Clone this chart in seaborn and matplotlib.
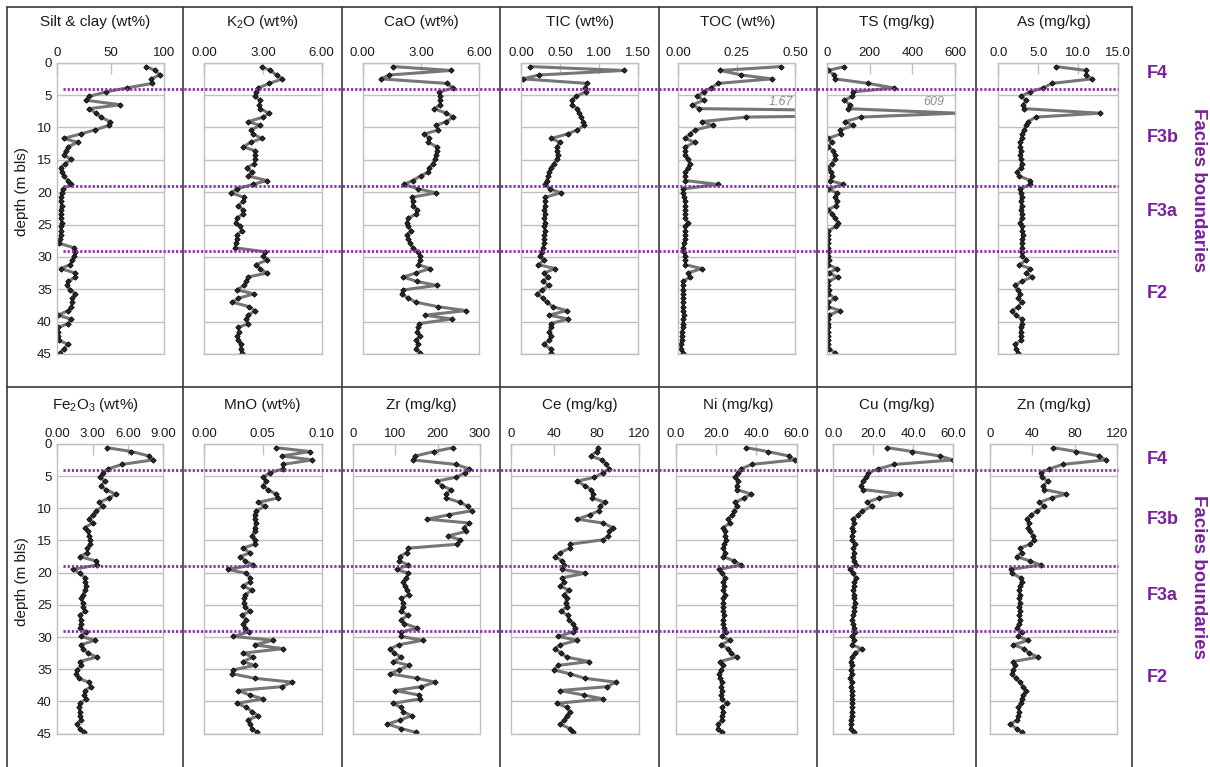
import matplotlib
matplotlib.use("Agg")
import matplotlib.pyplot as plt
from matplotlib.lines import Line2D
from matplotlib.transforms import blended_transform_factory
import seaborn as sns

# ---------------------------------------------------------------------------
# Sample depths (m below land surface)
# ---------------------------------------------------------------------------
DEPTH = [0.6, 1.2, 1.9, 2.5, 3.2, 3.9, 4.5, 5.2, 5.8, 6.5,
         7.1, 7.8, 8.4, 9.1, 9.7, 10.4, 11.0, 11.7, 12.3, 13.0,
         13.6, 14.3, 14.9, 15.6, 16.2, 16.9, 17.5, 18.2, 18.8, 19.5,
         20.1, 20.8, 21.4, 22.1, 22.7, 23.4, 24.0, 24.7, 25.3, 26.0,
         26.6, 27.3, 27.9, 28.6, 29.2, 29.9, 30.5, 31.2, 31.8, 32.5,
         33.1, 33.8, 34.4, 35.1, 35.7, 36.4, 37.0, 37.7, 38.3, 39.0,
         39.6, 40.3, 40.9, 41.6, 42.2, 42.9, 43.5, 44.2, 44.8]

SILT_CLAY = [83, 92, 96, 88, 89, 65, 46, 30, 27, 59,
             30, 36, 41, 49, 48, 35, 22, 6, 19, 10,
             8, 6, 13, 7.5, 3, 4, 6, 10, 13, 5,
             4, 3.5, 3, 4, 3, 3.5, 3, 4, 3, 3.5,
             3, 2.5, 1.5, 16, 17, 16, 14, 12, 3, 17,
             17, 10, 9, 12, 17, 14, 14, 13, 10, 1,
             12.5, 10, 1, 1, 1, 1.5, 10, 6, 2.5]

K2O = [2.94, 3.37, 3.70, 4.00, 3.33, 2.77, 2.65, 2.60, 2.86, 2.82,
       2.86, 3.30, 3.03, 2.26, 2.86, 2.38, 2.50, 2.94, 2.38, 2.00,
       2.60, 2.60, 2.60, 2.57, 2.18, 2.43, 2.26, 3.20, 2.50, 1.67,
       1.38, 2.04, 2.00, 1.75, 1.97, 1.97, 1.67, 1.62, 1.84, 1.92,
       1.67, 1.67, 1.62, 1.58, 3.11, 3.03, 3.20, 2.65, 2.86, 3.20,
       2.26, 2.14, 2.04, 1.67, 2.55, 1.75, 1.45, 2.31, 2.60, 2.26,
       2.14, 2.26, 1.75, 1.80, 1.70, 1.75, 1.87, 1.87, 1.92]

CAO = [1.54, 4.55, 1.37, 0.93, 4.32, 4.67, 3.95, 3.98, 3.98, 3.98,
       3.69, 4.29, 4.67, 4.29, 3.77, 3.89, 3.17, 3.43, 3.38, 3.81,
       3.81, 3.77, 3.72, 3.60, 3.43, 3.38, 2.98, 2.57, 2.14, 2.86,
       3.77, 2.52, 2.57, 2.57, 2.81, 2.74, 2.35, 2.26, 2.35, 2.49,
       2.26, 2.35, 2.44, 2.57, 2.86, 2.95, 2.95, 2.86, 3.46, 2.74,
       2.09, 2.78, 3.81, 2.09, 2.00, 2.35, 2.74, 3.89, 5.32, 3.21,
       4.58, 2.90, 2.86, 2.81, 2.95, 2.74, 2.86, 2.74, 2.95]

TIC = [0.12, 1.32, 0.23, 0.02, 0.85, 0.82, 0.83, 0.71, 0.65, 0.66,
       0.72, 0.75, 0.77, 0.80, 0.81, 0.72, 0.60, 0.39, 0.50, 0.46,
       0.46, 0.47, 0.46, 0.42, 0.38, 0.36, 0.35, 0.33, 0.31, 0.37,
       0.51, 0.31, 0.31, 0.31, 0.30, 0.31, 0.30, 0.31, 0.30, 0.31,
       0.30, 0.30, 0.30, 0.28, 0.27, 0.24, 0.30, 0.22, 0.44, 0.29,
       0.35, 0.28, 0.36, 0.27, 0.21, 0.28, 0.33, 0.41, 0.59, 0.36,
       0.61, 0.38, 0.38, 0.36, 0.38, 0.36, 0.29, 0.38, 0.39]

TOC = [0.44, 0.18, 0.27, 0.40, 0.17, 0.14, 0.11, 0.08, 0.11, 0.06,
       0.09, 1.67, 0.29, 0.10, 0.15, 0.07, 0.05, 0.03, 0.07, 0.03,
       0.03, 0.03, 0.04, 0.05, 0.04, 0.03, 0.03, 0.03, 0.17, 0.02,
       0.02, 0.025, 0.03, 0.03, 0.03, 0.03, 0.03, 0.04, 0.03, 0.03,
       0.03, 0.03, 0.025, 0.02, 0.025, 0.03, 0.03, 0.03, 0.10, 0.04,
       0.05, 0.02, 0.02, 0.02, 0.02, 0.02, 0.02, 0.02, 0.02, 0.025,
       0.02, 0.02, 0.02, 0.015, 0.015, 0.015, 0.01, 0.01, 0.02]

TS = [81, 5, 34, 37, 194, 312, 123, 119, 81, 108,
      97, 609, 159, 84, 123, 62, 64, 5, 22, 6,
      30, 37, 37, 22, 6, 19, 25, 14, 77, 6,
      45, 37, 45, 41, 5, 25, 37, 53, 41, 5,
      6, 5, 6, 5, 6, 5, 8, 6, 45, 8,
      50, 6, 5, 8, 6, 37, 6, 5, 61, 8,
      6, 5, 6, 5, 6, 5, 6, 8, 37]

AS = [7.2, 11.0, 11.0, 11.7, 6.7, 5.6, 4.0, 2.8, 3.5, 3.1,
      3.25, 12.7, 4.7, 3.7, 3.5, 3.2, 3.0, 2.9, 2.7, 2.7,
      2.8, 2.7, 2.8, 2.9, 2.8, 2.3, 2.6, 4.0, 4.0, 2.7,
      2.8, 2.9, 2.8, 2.9, 2.8, 3.0, 2.9, 2.7, 2.9, 3.0,
      3.1, 3.0, 2.9, 3.0, 2.9, 3.0, 3.5, 2.6, 4.0, 3.5,
      4.2, 2.9, 2.1, 2.4, 2.7, 2.5, 2.9, 2.5, 1.7, 2.2,
      2.9, 2.9, 2.8, 2.8, 2.8, 2.8, 2.1, 2.2, 2.5]

FE2O3 = [4.2, 6.3, 7.8, 8.1, 5.5, 4.3, 3.85, 3.6, 4.05, 3.7,
         4.1, 4.95, 4.4, 3.55, 3.85, 3.3, 3.0, 2.7, 3.0, 2.35,
         2.6, 2.7, 2.8, 2.8, 2.55, 2.55, 1.9, 3.3, 3.4, 1.35,
         1.9, 2.35, 2.35, 2.45, 2.35, 2.2, 2.05, 2.15, 2.2, 2.35,
         1.9, 2.0, 2.0, 1.9, 2.45, 2.0, 3.2, 2.0, 2.2, 2.6,
         3.35, 1.9, 2.05, 1.65, 1.6, 1.8, 2.65, 2.85, 2.35, 2.3,
         2.45, 1.9, 1.85, 1.9, 1.9, 2.0, 1.65, 1.9, 2.25]

MNO = [0.061, 0.090, 0.066, 0.092, 0.067, 0.067, 0.056, 0.050, 0.053, 0.050,
       0.054, 0.061, 0.063, 0.046, 0.052, 0.044, 0.043, 0.043, 0.044, 0.043,
       0.043, 0.041, 0.043, 0.043, 0.033, 0.039, 0.031, 0.035, 0.042, 0.020,
       0.036, 0.039, 0.039, 0.033, 0.041, 0.035, 0.034, 0.034, 0.035, 0.039,
       0.032, 0.036, 0.033, 0.035, 0.038, 0.025, 0.059, 0.043, 0.067, 0.033,
       0.042, 0.033, 0.043, 0.025, 0.024, 0.043, 0.075, 0.066, 0.029, 0.039,
       0.050, 0.028, 0.036, 0.041, 0.046, 0.037, 0.039, 0.041, 0.045]

ZR = [236, 192, 147, 141, 243, 275, 265, 243, 198, 210,
      231, 221, 221, 253, 271, 280, 228, 176, 275, 262,
      267, 225, 253, 246, 131, 127, 111, 110, 131, 104,
      131, 126, 119, 123, 127, 133, 115, 119, 118, 113,
      131, 114, 122, 152, 115, 114, 165, 108, 89, 97,
      115, 96, 133, 108, 88, 152, 194, 162, 100, 156,
      159, 94, 114, 119, 139, 111, 82, 115, 149]

CE = [81, 80, 74.5, 85, 89, 92, 86, 78, 62, 69,
      75, 77, 76, 88, 83, 82, 74, 62, 86, 95,
      92, 91, 86, 55, 55, 46, 41, 48, 50, 48,
      69, 48, 50, 46, 54, 50, 52, 51, 52, 47,
      53, 54, 58, 60, 58, 44, 62, 46, 41, 47,
      52, 73, 44, 40, 55, 69, 98, 90, 46, 68,
      86, 43, 52, 55, 52, 50, 46, 55, 58]

NI = [34.9, 45.6, 56.2, 59.2, 37.7, 32.4, 30.7, 29.4, 31.1, 30.2,
      30.2, 37.4, 34.0, 29.4, 30.2, 29.1, 28.1, 25.8, 26.9, 23.6,
      24.5, 24.5, 24.8, 24.1, 23.6, 24.5, 23.6, 29.1, 32.4, 21.5,
      22.8, 24.5, 23.6, 24.1, 23.6, 24.5, 23.6, 23.6, 23.6, 23.6,
      23.8, 23.6, 23.6, 24.1, 24.8, 22.8, 26.9, 22.5, 26.1, 27.4,
      30.2, 22.0, 23.6, 22.5, 21.5, 22.0, 22.8, 22.5, 22.8, 22.5,
      22.8, 25.3, 22.8, 23.6, 22.8, 22.8, 21.2, 20.8, 23.1]

CU = [27, 39.5, 53.3, 60, 30.5, 22.5, 17.5, 16.2, 15, 13.8,
      15, 33.3, 23, 16.7, 19.5, 14.5, 12.5, 10, 10.5, 9.5,
      10, 9.2, 9.5, 10.8, 10, 10.5, 10, 10.5, 11.3, 8.3,
      10, 11.2, 10.5, 10.5, 10, 10.5, 10.5, 10.8, 10.5, 10.5,
      10, 9.5, 10, 10.5, 10.8, 9.5, 10.5, 9.2, 14.2, 10.8,
      9.2, 8.8, 9.2, 8.8, 9.2, 8.3, 9.2, 8.8, 9.2, 9.2,
      9.2, 9.5, 9.5, 9.2, 9.2, 8.8, 8.8, 8.7, 10.5]

ZN = [59.7, 81, 103, 109, 68.5, 56, 47.7, 48.7, 55, 50,
      51, 72, 58, 46.5, 51, 44.6, 39, 34.5, 37, 36,
      37.7, 40.8, 41.5, 37.7, 28.3, 29.8, 25, 37.7, 47.7, 19.5,
      20.4, 29, 29.8, 28.3, 27.6, 28.3, 27.6, 28.3, 27.6, 28.3,
      27.6, 28.3, 27.6, 25, 29.8, 26.7, 36, 22, 32, 37,
      45.5, 22, 23.5, 22, 20.4, 24.5, 28.3, 30.8, 33.9, 31.4,
      29.8, 29, 26.7, 27.6, 26.7, 25.8, 18.8, 25, 29.8]

# Facies boundaries (m) and the zone names between them
FACIES_DEPTHS = [4.0, 19.0, 29.1]
FACIES_NAMES = ["F4", "F3b", "F3a", "F2"]

DEPTH_TICKS = [0, 5, 10, 15, 20, 25, 30, 35, 40, 45]

# title, values, x ticks, tick label format, flag for off-scale label
TOP_ROW = [
    ("Silt & clay (wt%)", SILT_CLAY, [0, 50, 100], "{:.0f}", False),
    ("K$_2$O (wt%)", K2O, [0, 3, 6], "{:.2f}", False),
    ("CaO (wt%)", CAO, [0, 3, 6], "{:.2f}", False),
    ("TIC (wt%)", TIC, [0, 0.5, 1.0, 1.5], "{:.2f}", False),
    ("TOC (wt%)", TOC, [0, 0.25, 0.5], "{:.2f}", True),
    ("TS (mg/kg)", TS, [0, 200, 400, 600], "{:.0f}", True),
    ("As (mg/kg)", AS, [0, 5, 10, 15], "{:.1f}", False),
]
BOTTOM_ROW = [
    ("Fe$_2$O$_3$ (wt%)", FE2O3, [0, 3, 6, 9], "{:.2f}", False),
    ("MnO (wt%)", MNO, [0, 0.05, 0.10], "{:.2f}", False),
    ("Zr (mg/kg)", ZR, [0, 100, 200, 300], "{:.0f}", False),
    ("Ce (mg/kg)", CE, [0, 40, 80, 120], "{:.0f}", False),
    ("Ni (mg/kg)", NI, [0, 20, 40, 60], "{:.1f}", False),
    ("Cu (mg/kg)", CU, [0, 20, 40, 60], "{:.1f}", False),
    ("Zn (mg/kg)", ZN, [0, 40, 80, 120], "{:.0f}", False),
]

# ---------------------------------------------------------------------------
# Layout (figure pixels)
# ---------------------------------------------------------------------------
W, H = 1210, 767
CELL_X = [7, 183, 342, 500, 659, 817, 976, 1132]
ROW_TOP = [7, 387]
ROW_PLOT_Y = [(62.7, 354.0), (443.8, 733.7)]
TITLE_Y = [22, 405]
PLOT_X = [
    [(57.3, 164.0), (204.0, 321.7), (362.7, 479.3), (521.0, 637.7),
     (678.3, 795.0), (827.0, 955.0), (998.3, 1118.3)],
    [(57.3, 163.3), (204.0, 321.7), (352.7, 480.0), (511.0, 639.3),
     (675.7, 796.7), (833.3, 953.3), (990.0, 1117.3)],
]
FACIES_LABEL_Y = [[74, 137, 211, 294], [459, 520, 595, 678]]
FACIES_TITLE_Y = [190, 577]
DEPTH_LABEL_Y = [192, 582]

LINE_COLOR = "#767676"
MARKER_COLOR = "#2a2a2a"
FRAME_COLOR = "#c0c0c0"
BORDER_COLOR = "#3a3a3a"
PURPLE_TEXT = "#7a1f9e"
PURPLE_LINE = "#8e2aab"

sns.set_style("white")
plt.rcParams["font.family"] = ["Liberation Sans", "DejaVu Sans"]
plt.rcParams["mathtext.default"] = "regular"

fig = plt.figure(figsize=(W / 100, H / 100), dpi=100)
fig.patch.set_facecolor("white")


def fx(px):
    return px / W


def fy(py):
    return 1 - py / H


for r, row in enumerate([TOP_ROW, BOTTOM_ROW]):
    y0, y1 = ROW_PLOT_Y[r]
    first_ax = None
    for c, (title, values, ticks, fmt, off_scale) in enumerate(row):
        x0, x1 = PLOT_X[r][c]
        ax = fig.add_axes([fx(x0), fy(y1), (x1 - x0) / W, (y1 - y0) / H])
        if first_ax is None:
            first_ax = ax
        ax.set_axisbelow(True)

        sns.lineplot(x=values, y=DEPTH, ax=ax, sort=False, estimator=None,
                     color=LINE_COLOR, linewidth=2.2, marker="D",
                     markersize=2.7, markerfacecolor=MARKER_COLOR,
                     markeredgecolor="#111111", markeredgewidth=0.7)

        ax.set_xlim(ticks[0], ticks[-1])
        ax.set_ylim(45, 0)
        ax.set_xlabel("")
        ax.set_ylabel("")
        ax.xaxis.tick_top()
        ax.set_xticks(ticks)
        ax.set_xticklabels([fmt.format(t) for t in ticks])
        ax.set_yticks(DEPTH_TICKS)
        if c != 0:
            ax.set_yticklabels([])
        ax.yaxis.grid(True, color=FRAME_COLOR, linewidth=1)
        ax.xaxis.grid(False)
        ax.tick_params(axis="x", direction="in", length=8, width=1,
                       color=FRAME_COLOR, pad=3, labelsize=9.5,
                       labelcolor="#1a1a1a")
        ax.tick_params(axis="y", length=0, pad=4, labelsize=9.5,
                       labelcolor="#1a1a1a")
        for sp in ax.spines.values():
            sp.set_color(FRAME_COLOR)
            sp.set_linewidth(1)

        # value of the sample lying beyond the axis range
        if off_scale:
            peak = max(values)
            peak_depth = DEPTH[values.index(peak)]
            label = "{:.2f}".format(peak) if peak < 10 else "{:.0f}".format(peak)
            tx = 0.985 if peak < 10 else 0.92
            ax.text(tx, peak_depth - 1.7, label,
                    transform=blended_transform_factory(ax.transAxes, ax.transData),
                    ha="right", va="center", style="italic",
                    color="#8c8c8c", fontsize=9)

        cx = (CELL_X[c] + CELL_X[c + 1]) / 2
        fig.text(fx(cx), fy(TITLE_Y[r]), title, ha="center", va="center",
                 fontsize=11, color="#1a1a1a")

    # facies boundary lines spanning the whole row
    trans = blended_transform_factory(fig.transFigure, first_ax.transData)
    for d in FACIES_DEPTHS:
        fig.add_artist(Line2D([fx(63), fx(1118)], [d, d], transform=trans,
                              color=PURPLE_LINE, linewidth=2.0,
                              linestyle=(0, (0.8, 0.7)), zorder=5))

    fig.text(fx(22), fy(DEPTH_LABEL_Y[r]), "depth (m bls)", rotation=90,
             ha="center", va="center", fontsize=11, color="#1a1a1a")

    for name, ly in zip(FACIES_NAMES, FACIES_LABEL_Y[r]):
        fig.text(fx(1147), fy(ly), name, ha="left", va="center",
                 fontsize=13, fontweight="bold", color=PURPLE_TEXT)
    fig.text(fx(1198), fy(FACIES_TITLE_Y[r]), "Facies boundaries",
             rotation=270, ha="center", va="center", fontsize=13.5,
             fontweight="bold", color=PURPLE_TEXT)

# table frame around the panels
for x in CELL_X:
    fig.add_artist(Line2D([fx(x), fx(x)], [fy(ROW_TOP[0]), 0],
                          color=BORDER_COLOR, linewidth=1.2))
for y in ROW_TOP:
    fig.add_artist(Line2D([fx(CELL_X[0]), fx(CELL_X[-1])], [fy(y), fy(y)],
                          color=BORDER_COLOR, linewidth=1.2))

fig.savefig("out.png", dpi=100, facecolor="white")
